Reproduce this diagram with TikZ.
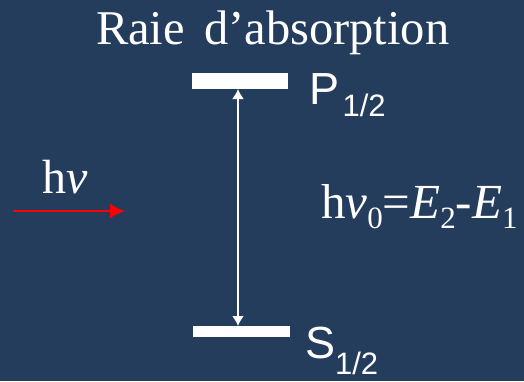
\documentclass[tikz,border=0pt]{standalone}
\usepackage{fontspec}
\setmainfont{Liberation Serif}
\newfontfamily\arialf{Liberation Sans}
\usetikzlibrary{arrows.meta}
\definecolor{bgblue}{RGB}{37,61,93}
\begin{document}
\begin{tikzpicture}[x=1pt,y=1pt,
  levelbar/.style={fill=white,draw=none,inner sep=0,outer sep=0},
  txt/.style={text=white,inner sep=0,outer sep=0,anchor=base west},
  serifbig/.style={font=\fontsize{48}{50}\selectfont},
  lvl/.style={font=\arialf\fontsize{45}{50}\selectfont}]
\fill[bgblue] (0,0) rectangle (524,381);
\useasboundingbox (0,0) rectangle (524,381);
% title
\node[txt,font=\fontsize{48.5}{52}\selectfont] (title) at (96,336) {Raie\hspace{0.15em} d’absorption};
% levels
\node[levelbar,minimum width=96pt,minimum height=16pt] (top) at (240,300) {};
\node[levelbar,minimum width=97pt,minimum height=11pt] (bot) at (241.5,49.5) {};
\draw[white,line width=1.8pt,{Latex[length=10pt,width=12pt]}-{Latex[length=10pt,width=12pt]}]
  ([xshift=-2pt]top.south) -- ([xshift=-3.5pt]bot.north);
\node[txt,lvl] (P) at (309.5,277) {P\hspace{3pt}\raisebox{-13pt}{\fontsize{31}{33}\selectfont 1/2}};
\node[txt,lvl] (S) at (305,23) {S\raisebox{-16pt}{\fontsize{31}{33}\selectfont 1/2}};
% photon
\node[txt,serifbig] (hnu) at (42,188) {h\textit{ν}};
\coordinate (r1) at (13,170);
\coordinate (r2) at (125,170);
\draw[red,line width=2.5pt,-{Latex[length=15pt,width=15pt]}] (r1) -- (r2);
% equation
\node[txt,font=\fontsize{49}{52}\selectfont] (eq) at (321,163) {h\textit{ν}\raisebox{-10pt}{\fontsize{31}{33}\selectfont 0}=\textit{E}\raisebox{-10pt}{\fontsize{31}{33}\selectfont 2}-\textit{E}\raisebox{-10pt}{\fontsize{31}{33}\selectfont 1}};
\end{tikzpicture}
\end{document}
